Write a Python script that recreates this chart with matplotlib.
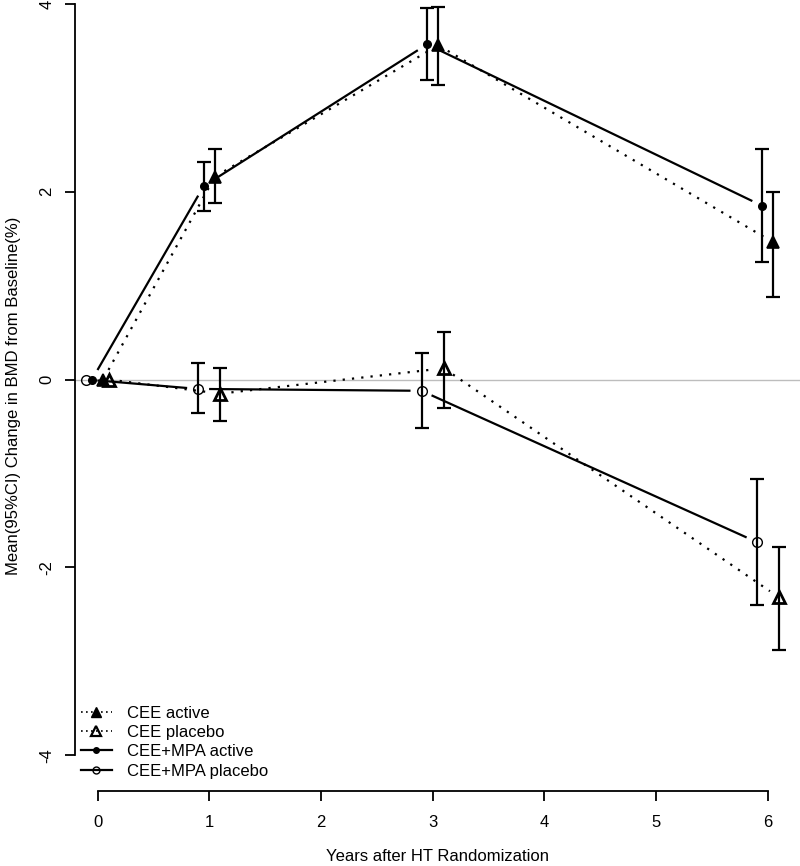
import matplotlib
matplotlib.use("Agg")
import matplotlib.pyplot as plt
from matplotlib.lines import Line2D
import numpy as np

plt.rcParams['font.family'] = ['Liberation Sans', 'DejaVu Sans']

# ---- data ----
years = [0, 1, 3, 6]
series_names = ["CEE active", "CEE placebo", "CEE+MPA active", "CEE+MPA placebo"]
x_offsets = [0.05, 0.1, -0.05, -0.1]

cee_active_mean = [0.0, 2.16, 3.56, 1.46]
cee_active_lo = [None, 1.88, 3.14, 0.88]
cee_active_hi = [None, 2.45, 3.97, 2.00]

cee_placebo_mean = [0.0, -0.15, 0.12, -2.32]
cee_placebo_lo = [None, -0.44, -0.30, -2.88]
cee_placebo_hi = [None, 0.12, 0.51, -1.78]

mpa_active_mean = [0.0, 2.06, 3.57, 1.85]
mpa_active_lo = [None, 1.79, 3.19, 1.25]
mpa_active_hi = [None, 2.32, 3.96, 2.46]

mpa_placebo_mean = [0.0, -0.10, -0.12, -1.73]
mpa_placebo_lo = [None, -0.36, -0.52, -2.40]
mpa_placebo_hi = [None, 0.18, 0.28, -1.06]

x_ticks = [0, 1, 2, 3, 4, 5, 6]
y_ticks = [-4, -2, 0, 2, 4]
x_label = "Years after HT Randomization"
y_label = "Mean(95%CI) Change in BMD from Baseline(%)"

# ---- figure ----
W, H = 800, 866
FS = 12
fig = plt.figure(figsize=(W / 100, H / 100), dpi=100)
ax = fig.add_axes([75 / W, (H - 791) / H, (W - 75) / W, 791 / H])
ax.set_xlim(-0.202, 6.288)
ax.set_ylim(-4.382, 4.042)

for s in ['top', 'right']:
    ax.spines[s].set_visible(False)
ax.spines['left'].set_bounds(-4, 4)
ax.spines['bottom'].set_bounds(0, 6)
for s in ['left', 'bottom']:
    ax.spines[s].set_linewidth(1.3)

ax.set_xticks(x_ticks)
ax.set_yticks(y_ticks)
ax.set_xticklabels([str(v) for v in x_ticks], fontsize=FS)
ax.set_yticklabels([str(v) for v in y_ticks], fontsize=FS, rotation=90, va='center')
ax.tick_params(axis='x', length=7, width=1.3, pad=10)
ax.tick_params(axis='y', length=7, width=1.3, pad=8)
ax.set_xlabel(x_label, fontsize=FS, labelpad=14)
ax.set_ylabel(y_label, fontsize=FS, labelpad=13)

ax.axhline(0, color='#bdbdbd', lw=1.0, zorder=0)

styles = [
    dict(ls=(0, (1, 3.2)), marker='^', mfc='black', ms=9, mew=1.2),
    dict(ls=(0, (1, 3.2)), marker='^', mfc='none', ms=9, mew=2.0),
    dict(ls='-', marker='o', mfc='black', ms=5.5, mew=1.0),
    dict(ls='-', marker='o', mfc='none', ms=7, mew=1.0),
]
means = [cee_active_mean, cee_placebo_mean, mpa_active_mean, mpa_placebo_mean]
los = [cee_active_lo, cee_placebo_lo, mpa_active_lo, mpa_placebo_lo]
his = [cee_active_hi, cee_placebo_hi, mpa_active_hi, mpa_placebo_hi]

gap_px = 11
for name, off, m, lo, hi, st in zip(series_names, x_offsets, means, los, his, styles):
    xs = [y + off for y in years]
    # gapped connecting segments (R type="b")
    pts = ax.transData.transform(np.column_stack([xs, m]))
    for p0, p1 in zip(pts[:-1], pts[1:]):
        d = p1 - p0
        L = np.hypot(*d)
        if L <= 2 * gap_px:
            continue
        u = d / L
        a = ax.transData.inverted().transform(p0 + u * gap_px)
        b = ax.transData.inverted().transform(p1 - u * gap_px)
        ax.plot([a[0], b[0]], [a[1], b[1]], color='black', lw=1.6,
                linestyle=st['ls'], solid_capstyle='butt')
    ax.plot(xs, m, linestyle='none', marker=st['marker'], mfc=st['mfc'],
            mec='black', ms=st['ms'], mew=st['mew'], zorder=4)
    ex = [x for x, l in zip(xs, lo) if l is not None]
    ey = [v for v, l in zip(m, lo) if l is not None]
    elo = [v - l for v, l in zip(m, lo) if l is not None]
    ehi = [h - v for v, h in zip(m, hi) if h is not None]
    ax.errorbar(ex, ey, yerr=[elo, ehi], fmt='none', ecolor='black',
                elinewidth=1.6, capsize=5, capthick=1.6, zorder=3)

handles = [
    Line2D([], [], color='black', lw=1.2, ls=(0, (1, 2)), marker='^', mfc='black', mec='black', ms=7),
    Line2D([], [], color='black', lw=1.2, ls=(0, (1, 2)), marker='^', mfc='none', mec='black', ms=7, mew=1.6),
    Line2D([], [], color='black', lw=1.6, ls='-', marker='o', mfc='black', mec='black', ms=4),
    Line2D([], [], color='black', lw=1.6, ls='-', marker='o', mfc='none', mec='black', ms=5),
]
ax.legend(handles, series_names, loc='lower left', bbox_to_anchor=(-0.006, 0.003),
          frameon=False, fontsize=FS, handlelength=1.9, handletextpad=0.9,
          labelspacing=0.26, borderaxespad=0.2)

fig.savefig("out.png", dpi=100)
